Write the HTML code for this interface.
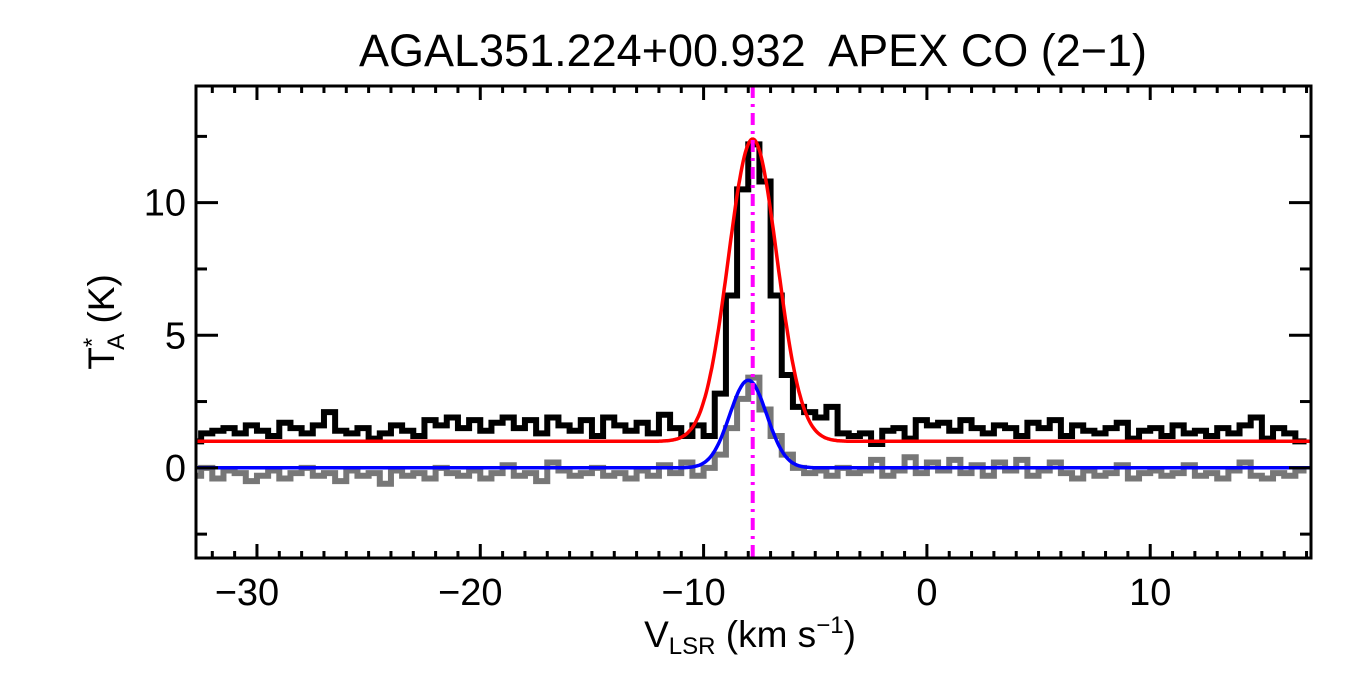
<!DOCTYPE html>
<html><head><meta charset="utf-8"><style>
html,body{margin:0;padding:0;background:#fff;}
svg{display:block;font-family:"Liberation Sans",Arial,sans-serif;}
</style></head><body>
<svg id="chart" width="1350" height="675" viewBox="0 0 1350 675">
<text x="753" y="66" font-size="45" text-anchor="middle" xml:space="preserve">AGAL351.224+00.932  APEX CO (2−1)</text>
<g id="plot"></g>
<g id="axes"></g>
<text x="750" y="647" font-size="37" text-anchor="middle">V<tspan font-size="24" dy="7">LSR</tspan><tspan dy="-7"> (km s</tspan><tspan font-size="24" dy="-14">−1</tspan><tspan dy="14">)</tspan></text>
<text transform="translate(114,322) rotate(-90)" font-size="37" text-anchor="middle">T<tspan font-size="24" dy="-14">*</tspan><tspan font-size="24" dx="-12" dy="24">A</tspan><tspan dy="-10"> (K)</tspan></text>
</svg>
<script>
const vStart = -32.75;
const dv = 0.5;
const blackSpec = [1.0,1.3,1.4,1.5,1.3,1.6,1.4,1.2,1.7,1.5,1.3,1.6,2.1,1.4,1.3,1.5,1.1,1.3,1.6,1.4,1.2,1.8,1.6,1.9,1.5,1.8,1.4,1.7,1.9,1.5,1.8,1.3,1.9,1.6,1.4,1.8,1.2,1.9,1.6,1.4,1.7,1.3,2.0,1.5,1.2,1.6,
1.2,2.8,6.5,10.5,12.2,10.8,6.5,3.5,2.3,2.1,1.9,2.3,1.3,
1.2,1.3,0.9,1.4,1.5,1.1,1.8,1.6,1.7,1.4,1.8,1.5,1.3,1.6,1.5,1.2,1.7,1.5,1.8,1.2,1.6,1.4,1.3,1.5,1.7,1.1,1.4,1.5,1.2,1.6,1.3,1.4,1.2,1.5,1.3,1.6,1.9,1.1,1.5,1.3,1.0];
const graySpec = [-0.3,0.0,-0.4,-0.1,-0.2,-0.5,-0.3,-0.1,-0.4,-0.2,0.0,-0.3,-0.2,-0.5,-0.1,-0.3,-0.2,-0.6,-0.1,-0.3,-0.2,-0.4,0.0,-0.2,-0.3,-0.1,-0.4,-0.2,0.1,-0.3,-0.2,-0.5,0.2,-0.1,-0.3,-0.2,0.0,-0.3,-0.2,-0.4,-0.1,-0.3,0.1,-0.2,0.2,-0.3,
0.0,0.5,1.5,2.6,3.4,2.2,1.2,0.5,0.0,-0.2,-0.1,-0.3,0.0,
-0.2,-0.1,0.3,-0.3,-0.1,0.4,-0.2,0.2,-0.1,0.3,-0.2,0.1,-0.3,0.2,-0.1,0.3,-0.3,-0.1,0.2,-0.2,-0.4,-0.1,-0.3,-0.2,0.1,-0.4,-0.2,-0.1,-0.3,-0.2,0.1,-0.3,-0.2,-0.4,-0.1,0.2,-0.3,-0.4,-0.2,-0.3,-0.1];
const redFit = [1.0, 11.4, -7.8, 1.09];   // baseline, amplitude, center, sigma
const blueFit = [0.0, 3.3, -8.0, 0.83];
const vLine = [-7.8];
const xTicks = [-30,-20,-10,0,10];
const yTicks = [0,5,10];

const X0=196,X1=1311,Y0=86,Y1=558, xmin=-32.73, xmax=17.2, ymin=-3.4, ymax=14.4;
const sx=v=>X0+(v-xmin)/(xmax-xmin)*(X1-X0);
const sy=t=>Y1-(t-ymin)/(ymax-ymin)*(Y1-Y0);
const NS='http://www.w3.org/2000/svg';
const plot=document.getElementById('plot'), axes=document.getElementById('axes');
function mk(tag,attrs,parent){const e=document.createElementNS(NS,tag);for(const k in attrs)e.setAttribute(k,attrs[k]);parent.appendChild(e);return e;}
const clip=mk('clipPath',{id:'cp'},document.getElementById('chart'));
mk('rect',{x:X0,y:Y0,width:X1-X0,height:Y1-Y0},clip);
plot.setAttribute('clip-path','url(#cp)');
function histPath(arr){let d='';for(let i=0;i<arr.length;i++){const a=sx(vStart+i*dv-dv/2),b=sx(vStart+i*dv+dv/2),y=sy(arr[i]);d+=(i?'L':'M')+a+' '+y+'L'+b+' '+y;}return d;}
const g=mk('path',{d:histPath(graySpec),fill:'none',stroke:'#777',"stroke-width":6},plot);


const k=mk('path',{d:histPath(blackSpec),fill:'none',stroke:'#000',"stroke-width":6},plot);


function gaussPath(p){let d='';for(let v=xmin;v<=xmax;v+=0.05){const t=p[0]+p[1]*Math.exp(-0.5*((v-p[2])/p[3])**2);d+=(d?'L':'M')+sx(v).toFixed(1)+' '+sy(t).toFixed(1);}return d;}
const r=mk('path',{d:gaussPath(redFit),fill:'none',stroke:'#f00',"stroke-width":3.5},plot);


const b=mk('path',{d:gaussPath(blueFit),fill:'none',stroke:'#00f',"stroke-width":3.5},plot);


const m=mk('line',{x1:sx(vLine[0]),x2:sx(vLine[0]),y1:Y0,y2:Y1,stroke:'#f0f',"stroke-width":4,"stroke-dasharray":"12 6 3 6"},plot);


const f=mk('rect',{x:X0,y:Y0,width:X1-X0,height:Y1-Y0,fill:'none',stroke:'#000',"stroke-width":3},axes);


for(let v=-32;v<=17;v++){const x=sx(v),L=(v%10===0)?14:7;
 mk('line',{x1:x,x2:x,y1:Y1,y2:Y1-L,stroke:'#000',"stroke-width":3},axes);
 mk('line',{x1:x,x2:x,y1:Y0,y2:Y0+L,stroke:'#000',"stroke-width":3},axes);}
for(let t=-2.5;t<=12.5;t+=2.5){const y=sy(t),L=(t%5===0)?22:11;
 mk('line',{x1:X0,x2:X0+L,y1:y,y2:y,stroke:'#000',"stroke-width":3},axes);
 mk('line',{x1:X1,x2:X1-L,y1:y,y2:y,stroke:'#000',"stroke-width":3},axes);}
xTicks.forEach(v=>{const t=mk('text',{x:sx(v)-(v<0?10:0),y:605,"font-size":38,"text-anchor":"middle"},axes);t.textContent=v<0?'−'+Math.abs(v):String(v);
 
 });
yTicks.forEach(v=>{const t=mk('text',{x:X0-10,y:sy(v)+13,"font-size":38,"text-anchor":"end"},axes);t.textContent=String(v);
 
 });
</script>
</body></html>
